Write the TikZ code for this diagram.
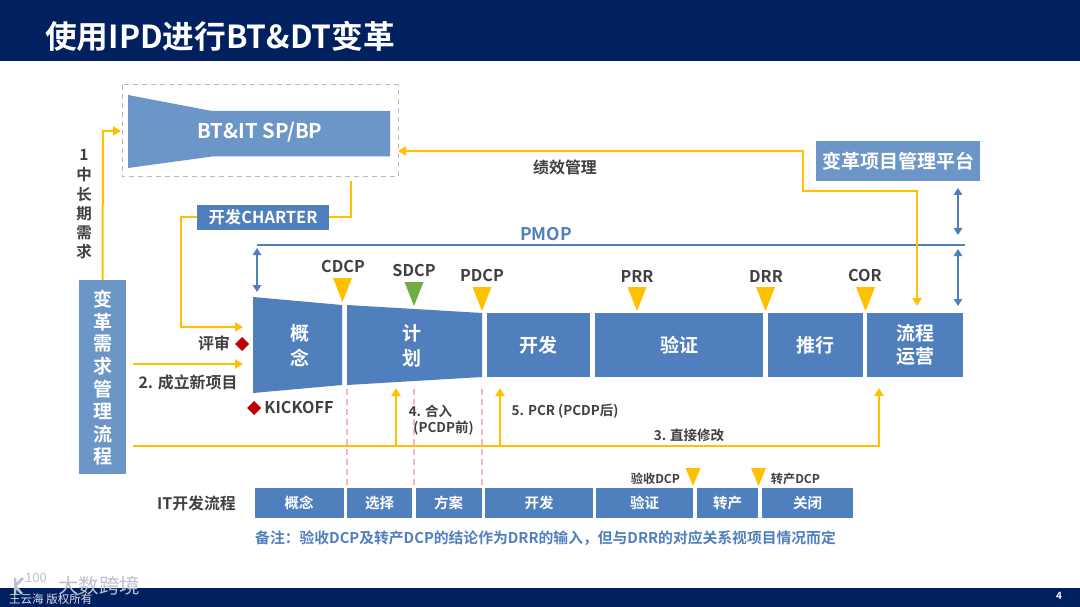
\documentclass[tikz,border=0pt]{standalone}
\usepackage{fontspec}
\setmainfont{Noto Sans CJK SC}[BoldFont={* Bold}]
\usetikzlibrary{arrows.meta}
\definecolor{navy}{HTML}{002060}
\definecolor{blueA}{HTML}{4F7FBC}
\definecolor{blueB}{HTML}{6C96C8}
\definecolor{gold}{HTML}{FFC000}
\definecolor{txt}{HTML}{404040}
\definecolor{gateGreen}{HTML}{70AD47}
\definecolor{pinkdash}{HTML}{F5B5C4}
\definecolor{wmark}{HTML}{BCC2CC}
\tikzset{
 x=1pt,y=-1pt,
 pbox/.style={fill=blueA,text=white,font=\bfseries\fontsize{19}{23}\selectfont,inner sep=0pt,align=center,anchor=center},
 itbox/.style={fill=blueA,text=white,font=\bfseries\fontsize{14.5}{17}\selectfont,inner sep=0pt,anchor=center,minimum height=30pt},
 lightbox/.style={fill=blueB,text=white,font=\bfseries\fontsize{19}{23}\selectfont,inner sep=0pt,anchor=center,align=center},
 lab/.style={text=txt,font=\bfseries\fontsize{15.9}{19}\selectfont,inner sep=0pt,anchor=center,align=center},
 gate/.style={text=txt,font=\bfseries\fontsize{16.2}{19}\selectfont,inner sep=0pt,anchor=center},
 minilab/.style={text=txt,font=\bfseries\fontsize{13.5}{16}\selectfont,inner sep=0pt,anchor=center},
 tinylab/.style={text=txt,font=\bfseries\fontsize{12.2}{14}\selectfont,inner sep=0pt,anchor=center},
 goldline/.style={draw=gold,line width=2pt},
 goldarrow/.style={goldline,-{Triangle[length=8pt,width=9pt]}},
 goldboth/.style={goldline,{Triangle[length=8pt,width=9pt]}-{Triangle[length=8pt,width=9pt]}},
 bluearrow/.style={draw=blueA,line width=1.3pt,{Triangle[length=7pt,width=8.5pt]}-{Triangle[length=7pt,width=8.5pt]}},
 pinklink/.style={draw=pinkdash,line width=1.6pt,dash pattern=on 6pt off 4pt},
 wmtext/.style={font=\fontsize{20.5}{24}\selectfont,inner sep=0pt},
}
\newcommand{\tri}[3][gold]{\fill[#1] (#2-9.5,#3-24) -- (#2+9.5,#3-24) -- (#2,#3) -- cycle;}
\newcommand{\smalltri}[2]{\fill[gold] (#1-7.5,#2-18) -- (#1+7.5,#2-18) -- (#1,#2) -- cycle;}
\newcommand{\dia}[2]{\fill[red!75!black] (#1-7,#2) -- (#1,#2-7) -- (#1+7,#2) -- (#1,#2+7) -- cycle;}
\begin{document}
\begin{tikzpicture}
\useasboundingbox (0,0) rectangle (1080,607);
\fill[white] (0,0) rectangle (1080,607);
\fill[navy] (0,0) rectangle (1080,61);
\fill[navy] (0,588) rectangle (1080,607);
\node[text=white,font=\bfseries\fontsize{31.7}{37}\selectfont,anchor=west,inner sep=0pt] (title) at (45,36) {使用IPD进行BT\&DT变革};
\node[text=white,font=\bfseries\fontsize{10}{12}\selectfont,inner sep=0pt] (pg) at (1059,596) {4};
\node[text=white,font=\fontsize{11.5}{13}\selectfont,anchor=west,inner sep=0pt,opacity=.85] (copy) at (9,599.5) {王云海 版权所有};
\node[text=wmark,wmtext] (wm) at (99,586) {大数跨境};
\node[text=wmark,font=\fontsize{13}{15}\selectfont,inner sep=0pt] (wm2) at (36,578) {100};
\draw[wmark,line width=2.5pt] (15,578) -- (15,594) (15,586) -- (23,578) (15,586) -- (22,594);
% top block
\draw[gray!55,line width=1pt,dash pattern=on 5pt off 4pt] (122,85) rectangle (398,177);
\fill[blueB] (128,95) -- (212,111) -- (390,111) -- (390,156.5) -- (212,156.5) -- (128,168) -- cycle;
\node[text=white,font=\bfseries\fontsize{20.3}{24}\selectfont,inner sep=0pt] (sp) at (260,132) {BT\&IT SP/BP};
\coordinate (spL) at (121,131);
\coordinate (spR) at (398,151);
\coordinate (spB) at (351,181);
\node[fill=blueA,text=white,font=\bfseries\fontsize{16.4}{19}\selectfont,minimum width=132pt,minimum height=25pt,inner sep=0pt] (charter) at (263,217.5) {开发CHARTER};
\node[lightbox,minimum width=164pt,minimum height=40pt] (plat) at (898,161) {变革项目管理平台};
\node[lightbox,minimum width=46.5pt,minimum height=194pt] (req) at (102.5,377) {};
\foreach \c/\y in {变/299,革/322,需/344,求/366,管/389,理/411,流/434,程/456}{\node[text=white,font=\bfseries\fontsize{19}{22}\selectfont,inner sep=0pt] at (103,\y) {\c};}
\foreach \c/\y in {1/155,中/175,长/195,期/214,需/233,求/252}{\node[text=txt,font=\bfseries\fontsize{15.5}{18}\selectfont,inner sep=0pt] at (84,\y) {\c};}
% PMOP
\node[text=blueA,font=\bfseries\fontsize{17.5}{20}\selectfont,inner sep=0pt] (pmop) at (546,234) {PMOP};
\coordinate (pL) at (257,245); \coordinate (pR) at (965,245);
\draw[blueA,line width=1.3pt] (pL) -- (pR);
\draw[bluearrow] (257,248) -- (257,292);
\draw[bluearrow] (958,188) -- (958,235);
\draw[bluearrow] (958,249) -- (958,306);
% main process
\fill[blueA] (253,297) -- (342,305) -- (342,385) -- (253,393) -- cycle;
\fill[blueA] (347,305) -- (482,313) -- (482,377) -- (347,385) -- cycle;
\node[text=white,font=\bfseries\fontsize{19}{25}\selectfont,align=center,inner sep=0pt] (n1) at (300,345.5) {概\\念};
\node[text=white,font=\bfseries\fontsize{19}{25}\selectfont,align=center,inner sep=0pt] (n2) at (412,345.5) {计\\划};
\node[pbox,minimum width=103.5pt,minimum height=64pt] (n3) at (538.5,345) {开发};
\node[pbox,minimum width=168.5pt,minimum height=64pt] (n4) at (679,345) {验证};
\node[pbox,minimum width=95pt,minimum height=64pt] (n5) at (815,345) {推行};
\node[pbox,minimum width=95.5pt,minimum height=64pt] (n6) at (915,345) {流程\\运营};
% gates
\tri{342.5}{302}\tri[gateGreen]{414}{306}\tri{482}{311}\tri{637}{311}\tri{765.5}{311}\tri{865.5}{311}
\node[gate] (g1) at (343,267) {CDCP};
\node[gate] (g2) at (414,271) {SDCP};
\node[gate] (g3) at (482,276) {PDCP};
\node[gate] (g4) at (637,276) {PRR};
\node[gate] (g5) at (766,276) {DRR};
\node[gate] (g6) at (865,276) {COR};
% gold connectors
\draw[goldarrow] (req.north) -- (103,131) -- (spL);
\draw[goldboth] (917,306) -- (917,191) -- (803,191) -- (803,151) -- (spR);
\draw[goldline] (spB) -- (351,217.5) -- (charter.east);
\draw[goldarrow] (charter.west) -- (181,217.5) -- (181,327) -- (243,327);
\draw[goldarrow] (133,364) -- (243,364);
\draw[goldarrow] (133,446) -- (879,446) -- (879,388);
\draw[goldarrow] (396,446) -- (396,388);
\draw[goldarrow] (500,446) -- (500,388);
% pink links
\draw[pinklink] (346.7,389) -- (346.7,486);
\draw[pinklink] (414,389) -- (414,486);
\draw[pinklink] (481.7,389) -- (481.7,486);
% labels
\node[lab] (l1) at (565,167) {绩效管理};
\node[lab] (l2) at (214,343) {评审};
\dia{242}{344}
\node[lab] (l3) at (188,382) {2. 成立新项目};
\dia{254}{408}
\node[gate] (l4) at (299,408) {KICKOFF};
\node[minilab] (l5a) at (430.5,411) {4. 合入};
\node[minilab] (l5b) at (443.5,428) {(PCDP前)};
\node[minilab] (l6) at (565,411) {5. PCR (PCDP后)};
\node[minilab] (l7) at (689,435) {3. 直接修改};
\node[lab] (l8) at (196.5,503) {IT开发流程};
% IT row
\node[itbox,minimum width=89pt] (i1) at (299,503.3) {概念};
\node[itbox,minimum width=65.5pt] (i2) at (379.5,503.3) {选择};
\node[itbox,minimum width=66pt] (i3) at (448.5,503.3) {方案};
\node[itbox,minimum width=108pt] (i4) at (539,503.3) {开发};
\node[itbox,minimum width=97pt] (i5) at (644.5,503.3) {验证};
\node[itbox,minimum width=61.5pt] (i6) at (727.5,503.3) {转产};
\node[itbox,minimum width=91.5pt] (i7) at (807.5,503.3) {关闭};
\smalltri{693}{486}\smalltri{758.5}{486}
\node[tinylab] (l9) at (655.5,479) {验收DCP};
\node[tinylab] (l10) at (795.5,479) {转产DCP};
\node[text=blueA,font=\bfseries\fontsize{14.8}{18}\selectfont,anchor=west,inner sep=0pt] (note) at (255,538) {备注：验收DCP及转产DCP的结论作为DRR的输入，但与DRR的对应关系视项目情况而定};
\end{tikzpicture}
\end{document}
